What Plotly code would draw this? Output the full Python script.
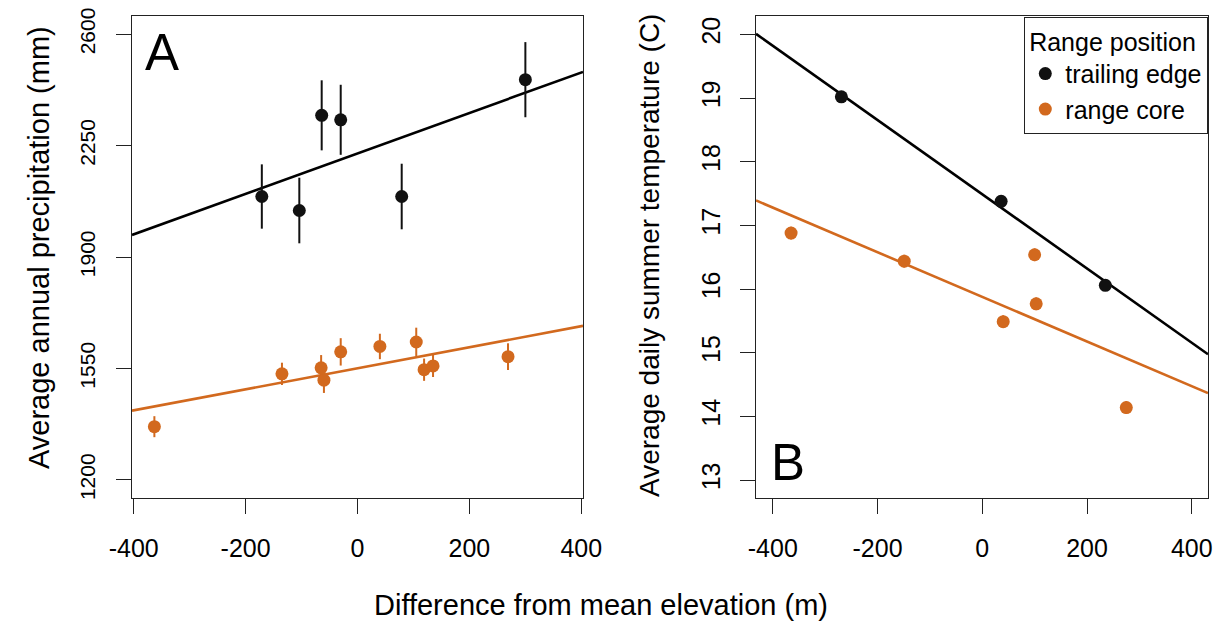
import numpy as np
import plotly.graph_objects as go

# Panel A: precipitation vs elevation difference
elev_a_trail = [-171, -104, -64, -30, 79, 300]
precip_trail = [2090, 2046, 2345, 2331, 2090, 2457]
precip_trail_err = [101, 103, 110, 110, 103, 118]

elev_a_core = [-363, -135, -65, -60, -30, 40, 105, 119, 135, 269]
precip_core = [1367, 1533, 1552, 1513, 1602, 1619, 1633, 1546, 1558, 1587]
precip_core_err = [33, 35, 40, 40, 43, 40, 45, 35, 35, 42]

# Panel B: summer temperature vs elevation difference
elev_b_trail = [-269, 36, 235]
temp_trail = [19.02, 17.38, 16.06]
temp_trail_err = [0.05, 0.05, 0.05]

elev_b_core = [-365, -149, 40, 100, 103, 275]
temp_core = [16.88, 16.44, 15.49, 16.54, 15.77, 14.14]
temp_core_err = [0.1, 0.1, 0.1, 0.1, 0.1, 0.1]

x_ticks = [-400, -200, 0, 200, 400]
x_tick_labels = ["-400", "-200", "0", "200", "400"]
precip_ticks = [1200, 1550, 1900, 2250, 2600]
temp_ticks = [13, 14, 15, 16, 17, 18, 19, 20]

x_range_a = [-403, 403]
x_range_b = [-432, 431]
y_range_a = [1143, 2657]
y_range_b = [12.72, 20.29]

BLACK = "#000000"
ORANGE = "#D2691E"
FONT = "Liberation Sans, Arial, sans-serif"

# the page body has an 8px margin, so the figure is sized to fit the window
OFF = 8
W, H = 1222 - OFF, 625 - OFF


def px(x):
    return (x - OFF) / W


def py(y):
    return 1 - (y - OFF) / H


def fit_line(x, y, xr):
    slope, icpt = np.polyfit(x, y, 1)
    xs = np.array(xr, dtype=float)
    return xs, icpt + slope * xs


fig = go.Figure()


def add_points(x, y, err, color, xa, ya, name, show):
    fig.add_trace(go.Scatter(
        x=x, y=y, mode="markers", name=name, legendgroup=name, showlegend=show,
        marker=dict(color=color, size=13),
        error_y=dict(type="data", array=err, width=0, thickness=2, color=color),
        xaxis=xa, yaxis=ya,
    ))


def add_fit(x, y, xr, color, xa, ya, name):
    lx, ly = fit_line(x, y, xr)
    fig.add_trace(go.Scatter(
        x=lx, y=ly, mode="lines", line=dict(color=color, width=2.6),
        legendgroup=name, showlegend=False, xaxis=xa, yaxis=ya,
    ))


# panel A
add_fit(elev_a_trail, precip_trail, x_range_a, BLACK, "x", "y", "trailing edge")
add_fit(elev_a_core, precip_core, x_range_a, ORANGE, "x", "y", "range core")
add_points(elev_a_trail, precip_trail, precip_trail_err, "#111111", "x", "y", "trailing edge", False)
add_points(elev_a_core, precip_core, precip_core_err, ORANGE, "x", "y", "range core", False)

# panel B
add_fit(elev_b_trail, temp_trail, x_range_b, BLACK, "x2", "y2", "trailing edge")
add_fit(elev_b_core, temp_core, x_range_b, ORANGE, "x2", "y2", "range core")
add_points(elev_b_trail, temp_trail, temp_trail_err, "#111111", "x2", "y2", "trailing edge", True)
add_points(elev_b_core, temp_core, temp_core_err, ORANGE, "x2", "y2", "range core", True)

axis_common = dict(
    showgrid=False, zeroline=False, showline=True, mirror=True, automargin=False,
    linecolor="#222222", linewidth=1.3, ticks="outside", ticklen=15,
    tickwidth=1.3, tickcolor="#222222", ticklabeloverflow="allow",
)
tick_font = dict(family=FONT, size=25, color="black")

y_dom = [py(498), py(16)]
fig.update_layout(
    width=W, height=H,
    margin=dict(l=0, r=0, t=0, b=0),
    plot_bgcolor="white", paper_bgcolor="white",
    font=dict(family=FONT, color="black"),
    xaxis=dict(domain=[px(132), px(583)], range=x_range_a, tickvals=x_ticks,
               ticktext=x_tick_labels, anchor="y", ticklabelstandoff=13,
               tickfont=tick_font, **axis_common),
    yaxis=dict(domain=y_dom, range=y_range_a, tickvals=precip_ticks,
               tickangle=-90, anchor="x", ticklabelstandoff=12,
               tickfont=dict(family=FONT, size=21, color="black"), **axis_common),
    xaxis2=dict(domain=[px(756), px(1208)], range=x_range_b, tickvals=x_ticks,
                ticktext=x_tick_labels, anchor="y2", ticklabelstandoff=13,
                tickfont=tick_font, **axis_common),
    yaxis2=dict(domain=y_dom, range=y_range_b, tickvals=temp_ticks,
                tickangle=-90, anchor="x2", ticklabelstandoff=10,
                tickfont=tick_font, **axis_common),
    legend=dict(
        x=px(1208), xanchor="right", y=py(17), yanchor="top",
        bordercolor="#222222", borderwidth=1.3, bgcolor="white",
        title=dict(text="Range position ", side="top center",
                   font=dict(family=FONT, size=25)),
        font=dict(family=FONT, size=25), tracegroupgap=0,
    ),
    annotations=[
        dict(text="Difference from mean elevation (m)", x=px(601), y=py(605),
             xref="paper", yref="paper", showarrow=False,
             font=dict(family=FONT, size=29), xanchor="center", yanchor="middle"),
        dict(text="Average annual precipitation (mm)", x=px(39), y=py(248),
             xref="paper", yref="paper", showarrow=False, textangle=-90,
             font=dict(family=FONT, size=29), xanchor="center", yanchor="middle"),
        dict(text="Average daily summer temperature (C)", x=px(649), y=py(256),
             xref="paper", yref="paper", showarrow=False, textangle=-90,
             font=dict(family=FONT, size=28), xanchor="center", yanchor="middle"),
        dict(text="A", x=px(162), y=py(52), xref="paper", yref="paper",
             showarrow=False, font=dict(family=FONT, size=51),
             xanchor="center", yanchor="middle"),
        dict(text="B", x=px(788), y=py(462), xref="paper", yref="paper",
             showarrow=False, font=dict(family=FONT, size=51),
             xanchor="center", yanchor="middle"),
    ],
)

fig.write_html("out.html")
